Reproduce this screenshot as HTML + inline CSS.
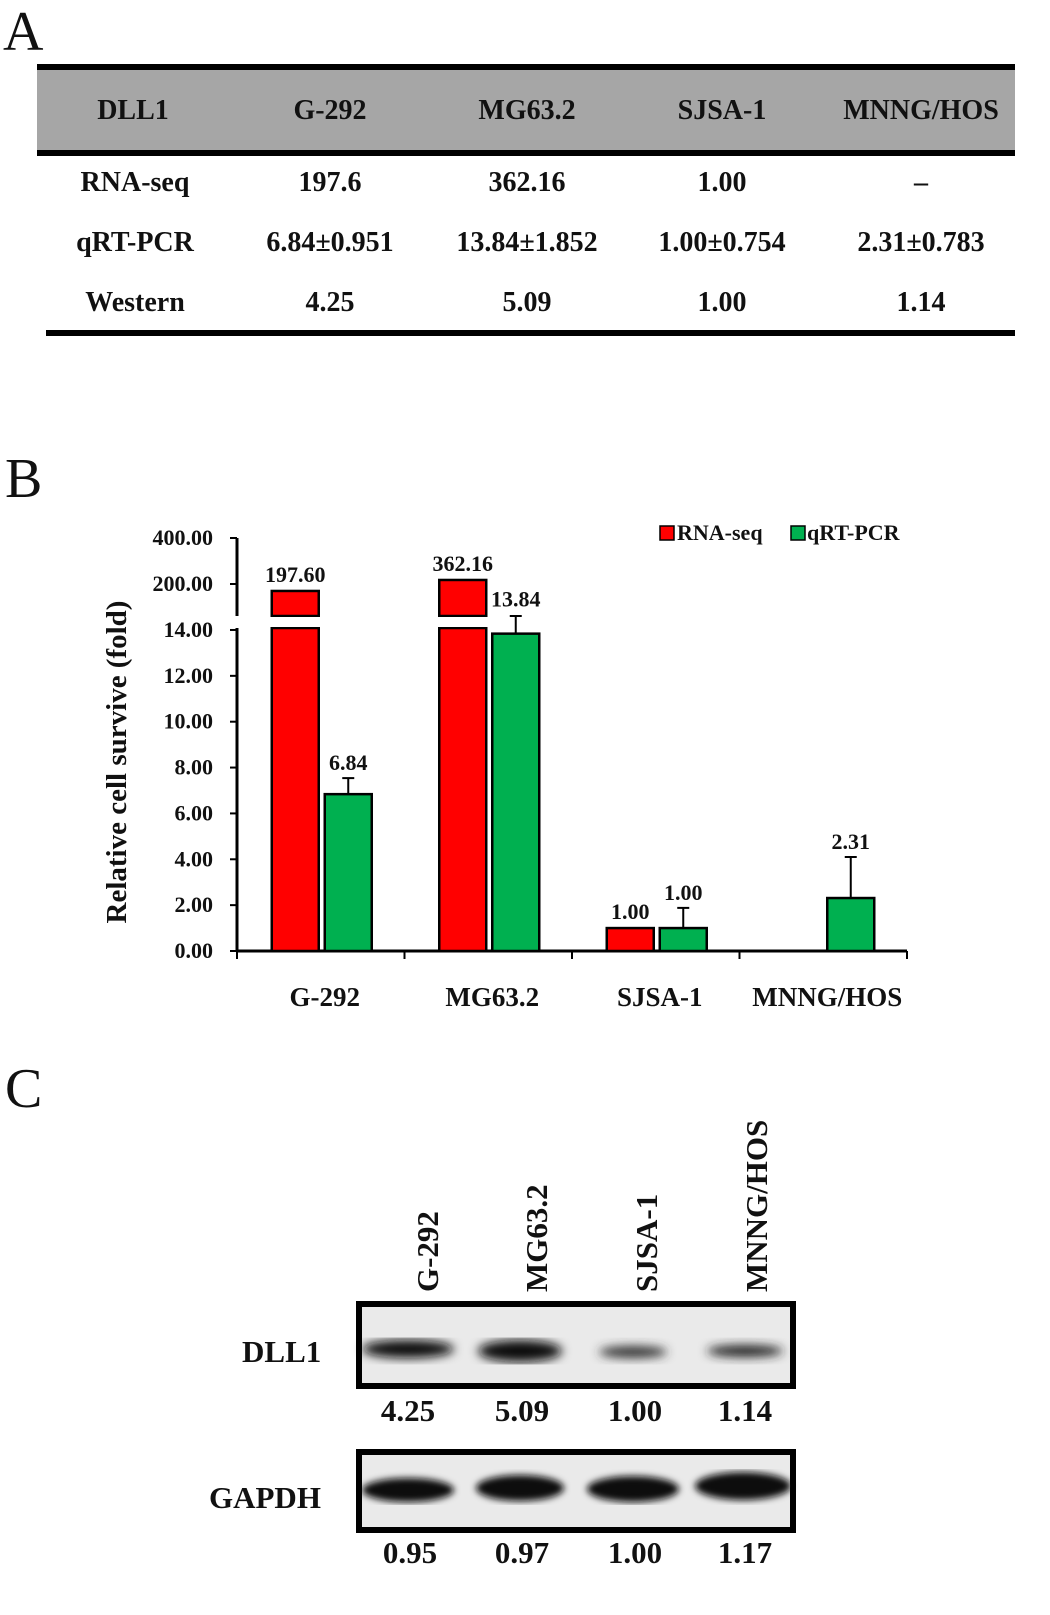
<!DOCTYPE html>
<html><head><meta charset="utf-8"><style>
body{margin:0;background:#fff;width:1050px;height:1615px;overflow:hidden}
svg{display:block}
text{font-family:"Liberation Serif",serif;font-weight:bold;fill:#111}
</style></head><body>
<svg id="fig" width="1050" height="1615">
<!-- Panel A -->
<text x="3" y="50" font-size="56" style="font-weight:normal">A</text>
<g>
<rect x="37" y="67" width="978" height="85" fill="#a6a6a6"/>
<rect x="37" y="64" width="978" height="6" fill="#000"/>
<rect x="37" y="150" width="978" height="6" fill="#000"/>
<rect x="46" y="330" width="969" height="6" fill="#000"/>
<g font-size="28" text-anchor="middle">
<text x="133" y="119">DLL1</text>
<text x="330" y="119">G-292</text>
<text x="527" y="119">MG63.2</text>
<text x="722" y="119">SJSA-1</text>
<text x="921" y="119">MNNG/HOS</text>
<text x="135" y="191">RNA-seq</text>
<text x="330" y="191">197.6</text>
<text x="527" y="191">362.16</text>
<text x="722" y="191">1.00</text>
<text x="921" y="191">–</text>
<text x="135" y="251">qRT-PCR</text>
<text x="330" y="251">6.84±0.951</text>
<text x="527" y="251">13.84±1.852</text>
<text x="722" y="251">1.00±0.754</text>
<text x="921" y="251">2.31±0.783</text>
<text x="135" y="311">Western</text>
<text x="330" y="311">4.25</text>
<text x="527" y="311">5.09</text>
<text x="722" y="311">1.00</text>
<text x="921" y="311">1.14</text>
</g></g>

<!-- Panel B -->
<text x="5" y="497" font-size="56" style="font-weight:normal">B</text>
<g id="chart"></g>

<!-- Panel C -->
<text x="5" y="1107" font-size="56" style="font-weight:normal">C</text>
<g>
<g font-size="31">
<text transform="translate(438,1292) rotate(-90)">G-292</text>
<text transform="translate(547,1292) rotate(-90)">MG63.2</text>
<text transform="translate(657,1292) rotate(-90)">SJSA-1</text>
<text transform="translate(767,1292) rotate(-90)">MNNG/HOS</text>
</g>
<text x="242" y="1362" font-size="31">DLL1</text>
<text x="209" y="1508" font-size="31">GAPDH</text>
<defs>
<filter id="blur"><feGaussianBlur stdDeviation="5"/></filter>
<filter id="blur2"><feGaussianBlur stdDeviation="3.5"/></filter>
</defs>
<g>
<rect x="359" y="1304" width="434" height="82" fill="#eaeaea" stroke="#000" stroke-width="6"/>
<g filter="url(#blur)">
<ellipse cx="408" cy="1349" rx="46" ry="9" fill="#111"/>
<ellipse cx="520" cy="1351" rx="42" ry="11" fill="#111"/>
<ellipse cx="633" cy="1352" rx="34" ry="6" fill="#333"/>
<ellipse cx="745" cy="1351" rx="38" ry="6" fill="#222"/>
</g></g>
<g font-size="31" text-anchor="middle">
<text x="408" y="1421">4.25</text>
<text x="522" y="1421">5.09</text>
<text x="635" y="1421">1.00</text>
<text x="745" y="1421">1.14</text>
</g>
<g>
<rect x="359" y="1452" width="434" height="78" fill="#eaeaea" stroke="#000" stroke-width="6"/>
<g filter="url(#blur2)">
<ellipse cx="408" cy="1490" rx="46" ry="12" fill="#111"/>
<ellipse cx="520" cy="1488" rx="44" ry="13" fill="#111"/>
<ellipse cx="633" cy="1489" rx="46" ry="13" fill="#111"/>
<ellipse cx="743" cy="1486" rx="48" ry="14" fill="#111"/>
</g></g>
<g font-size="31" text-anchor="middle">
<text x="410" y="1563">0.95</text>
<text x="522" y="1563">0.97</text>
<text x="635" y="1563">1.00</text>
<text x="745" y="1563">1.17</text>
</g></g>
</svg>
<script>
const categories = ["G-292","MG63.2","SJSA-1","MNNG/HOS"];
const rnaSeq = [197.60, 362.16, 1.00, null];
const qrtPcr = [6.84, 13.84, 1.00, 2.31];
const qrtErr = [0.70, 0.77, 0.88, 1.79];
const lowTicks = [0,2,4,6,8,10,12,14];
const highTicks = [200,400];

const NS="http://www.w3.org/2000/svg";
const g=document.getElementById('chart');
function el(tag,attrs,txt){const e=document.createElementNS(NS,tag);for(const k in attrs)e.setAttribute(k,attrs[k]);if(txt!=null)e.textContent=txt;g.appendChild(e);return e;}
const x0=237, x1=907, y0=951, unit=22.93;
const yLow=v=>y0-v*unit;
const yHighTick=v=>584-(v-200)*0.23;
const yHighBar=v=>590.8-(v-200)*0.0668;
const grpW=(x1-x0)/categories.length;
const cx=i=>x0+grpW*(i+0.5);
const BW=47, GAP=4;

let a=el('line',{x1:x0,y1:538,x2:x0,y2:616,stroke:'#000','stroke-width':3});

a=el('line',{x1:x0,y1:628,x2:x0,y2:y0,stroke:'#000','stroke-width':3});

a=el('line',{x1:x0,y1:y0,x2:x1,y2:y0,stroke:'#000','stroke-width':3});

for(let i=0;i<=categories.length;i++){
  const t=el('line',{x1:x0+grpW*i,y1:y0,x2:x0+grpW*i,y2:y0+8,stroke:'#000','stroke-width':2});
  
}
lowTicks.forEach(v=>{
  const y=yLow(v);
  const t=el('line',{x1:x0-7,y1:y,x2:x0,y2:y,stroke:'#000','stroke-width':2});
  
  const l=el('text',{x:x0-24,y:y+7,'font-size':22,'text-anchor':'end'},v.toFixed(2));
  
});
highTicks.forEach(v=>{
  const y=yHighTick(v);
  const t=el('line',{x1:x0-7,y1:y,x2:x0,y2:y,stroke:'#000','stroke-width':2});
  
  const l=el('text',{x:x0-24,y:y+7,'font-size':22,'text-anchor':'end'},v.toFixed(2));
  
});
const yt=el('text',{transform:'translate(126,762) rotate(-90)','font-size':29,'text-anchor':'middle'},'Relative cell survive (fold)');


categories.forEach((c,i)=>{
  const l=el('text',{x:cx(i)+4,y:1006,'font-size':27,'text-anchor':'middle'},c);
  
  const rx=cx(i)-GAP/2-BW, gx=cx(i)+GAP/2+2;
  const r=rnaSeq[i];
  if(r!=null){
    let top = r>14 ? yHighBar(r) : yLow(r);
    if(r>14){
      const b1=el('rect',{x:rx,y:top,width:BW,height:616-top,fill:'#ff0000',stroke:'#000','stroke-width':2.5});
      
      const b2=el('rect',{x:rx,y:628,width:BW,height:y0-628,fill:'#ff0000',stroke:'#000','stroke-width':2.5});
      
      const w=el('rect',{x:rx-3,y:617,width:BW+6,height:10,fill:'#fff'});
      
    } else {
      const b=el('rect',{x:rx,y:top,width:BW,height:y0-top,fill:'#ff0000',stroke:'#000','stroke-width':2.5});
      
    }
    const v=el('text',{x:rx+BW/2,y:top-9,'font-size':22,'text-anchor':'middle'},r.toFixed(2));
    
  }
  const q=qrtPcr[i], qt=yLow(q), et=yLow(q+qrtErr[i]);
  const e=el('line',{x1:gx+BW/2,y1:qt,x2:gx+BW/2,y2:et,stroke:'#000','stroke-width':2});
  
  const ec=el('line',{x1:gx+BW/2-6,y1:et,x2:gx+BW/2+6,y2:et,stroke:'#000','stroke-width':2});
  
  const b=el('rect',{x:gx,y:qt,width:BW,height:y0-qt,fill:'#00b050',stroke:'#000','stroke-width':2.5});
  
  const ly = i===1 ? qt-27 : et-8;
  const v=el('text',{x:gx+BW/2,y:ly,'font-size':22,'text-anchor':'middle'},q.toFixed(2));
  
});
let s=el('rect',{x:660,y:526,width:14,height:14,fill:'#ff0000',stroke:'#000','stroke-width':1.5});

s=el('text',{x:677,y:540,'font-size':22},'RNA-seq');

s=el('rect',{x:791,y:526,width:14,height:14,fill:'#00b050',stroke:'#000','stroke-width':1.5});

s=el('text',{x:807,y:540,'font-size':22},'qRT-PCR');

</script>
</body></html>
